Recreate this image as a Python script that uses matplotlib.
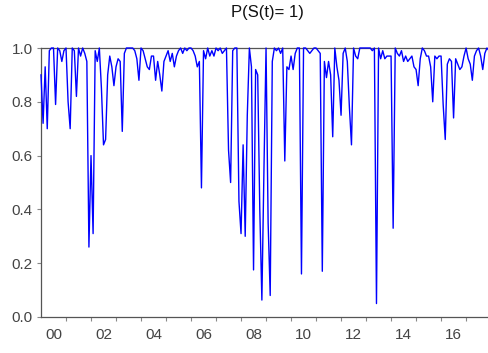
import numpy as np
import matplotlib
matplotlib.use("Agg")
import matplotlib.pyplot as plt
from matplotlib.ticker import FixedLocator, NullFormatter, FixedFormatter

start_year = 2000
# Monthly smoothed probabilities P(S(t)=1), Jan 2000 .. Dec 2017
p2000 = [0.90, 0.72, 0.93, 0.70, 0.99, 1.00, 1.00, 0.79, 1.00, 0.99, 0.95, 0.99]
p2001 = [1.00, 0.80, 0.70, 1.00, 0.99, 0.82, 1.00, 0.97, 1.00, 0.98, 0.95, 0.26]
p2002 = [0.60, 0.31, 0.99, 0.95, 1.00, 0.85, 0.64, 0.66, 0.90, 0.97, 0.93, 0.86]
p2003 = [0.93, 0.96, 0.95, 0.69, 0.98, 1.00, 1.00, 1.00, 1.00, 0.99, 0.96, 0.88]
p2004 = [1.00, 0.99, 0.96, 0.93, 0.92, 0.97, 0.97, 0.88, 0.95, 0.90, 0.84, 0.95]
p2005 = [0.97, 0.99, 0.95, 0.98, 0.93, 0.97, 0.99, 1.00, 0.98, 1.00, 0.99, 1.00]
p2006 = [1.00, 0.99, 0.97, 0.93, 0.95, 0.48, 0.99, 0.96, 1.00, 0.97, 0.99, 0.97]
p2007 = [1.00, 0.99, 1.00, 0.98, 0.99, 1.00, 0.62, 0.50, 0.99, 1.00, 1.00, 0.43]
p2008 = [0.31, 0.64, 0.30, 0.75, 1.00, 0.93, 0.175, 0.92, 0.90, 0.40, 0.063, 0.55]
p2009 = [1.00, 0.35, 0.08, 0.95, 1.00, 0.99, 1.00, 0.98, 1.00, 0.58, 0.93, 0.92]
p2010 = [0.97, 0.92, 0.98, 1.00, 1.00, 0.16, 1.00, 1.00, 0.99, 0.98, 0.99, 1.00]
p2011 = [1.00, 0.99, 0.98, 0.17, 0.95, 0.89, 0.95, 0.90, 0.67, 1.00, 0.93, 0.88]
p2012 = [0.75, 0.98, 1.00, 0.95, 0.78, 0.64, 1.00, 0.97, 0.96, 1.00, 1.00, 1.00]
p2013 = [1.00, 1.00, 1.00, 0.99, 1.00, 0.05, 1.00, 0.96, 0.99, 0.96, 0.97, 0.97]
p2014 = [0.97, 0.33, 1.00, 0.98, 0.97, 0.99, 0.95, 0.97, 0.95, 0.96, 0.97, 0.93]
p2015 = [0.92, 0.86, 0.96, 1.00, 0.99, 0.97, 0.97, 0.93, 0.80, 0.97, 0.96, 0.97]
p2016 = [0.97, 0.79, 0.66, 0.94, 0.96, 0.95, 0.74, 0.96, 0.94, 0.92, 0.93, 0.97]
p2017 = [1.00, 0.96, 0.94, 0.88, 0.97, 0.99, 1.00, 0.97, 0.92, 0.98, 1.00, 0.99]

year_labels = ["00", "02", "04", "06", "08", "10", "12", "14", "16"]
ytick_vals = [0.0, 0.2, 0.4, 0.6, 0.8, 1.0]

values = np.array(p2000 + p2001 + p2002 + p2003 + p2004 + p2005 + p2006 + p2007 + p2008
                  + p2009 + p2010 + p2011 + p2012 + p2013 + p2014 + p2015 + p2016 + p2017)
t = start_year + np.arange(len(values)) / 12.0

plt.rcParams['font.family'] = ['Liberation Sans', 'DejaVu Sans']
fig = plt.figure(figsize=(4.89, 3.53), dpi=100)
ax = fig.add_axes([41/489, 1 - 317/353, 1 - 41/489, (317 - 48)/353])
ax.plot(t, values, color='#0000ff', lw=1.0, clip_on=False, zorder=3)

ax.set_xlim(start_year, t[-1])
ax.set_ylim(0, 1.0)
for s in ['left', 'bottom', 'top']:
    ax.spines[s].set_color('#555555')
    ax.spines[s].set_linewidth(0.9)
ax.spines['right'].set_visible(False)

ax.set_yticks(ytick_vals)
ax.set_yticklabels([f"{v:.1f}" for v in ytick_vals])
years = np.arange(start_year + 1, 2018)
ax.xaxis.set_major_locator(FixedLocator(years))
ax.xaxis.set_major_formatter(NullFormatter())
lab_pos = [start_year + int(l) + 0.5 for l in year_labels]
ax.xaxis.set_minor_locator(FixedLocator(lab_pos))
ax.xaxis.set_minor_formatter(FixedFormatter(year_labels))
ax.tick_params(axis='x', which='major', direction='out', length=3, color='#888888')
ax.tick_params(axis='x', which='minor', length=0, pad=8, labelsize=11, labelcolor='#444444')
ax.tick_params(axis='y', direction='out', length=3, color='#888888', labelsize=11,
               labelcolor='#444444', pad=3)

fig.text((41 + 489) / 2 / 489 + 0.005, 1 - 13/353, "P(S(t)= 1)", ha='center', va='center',
         fontsize=12, color='#111111')

fig.savefig("out.png", dpi=100)
